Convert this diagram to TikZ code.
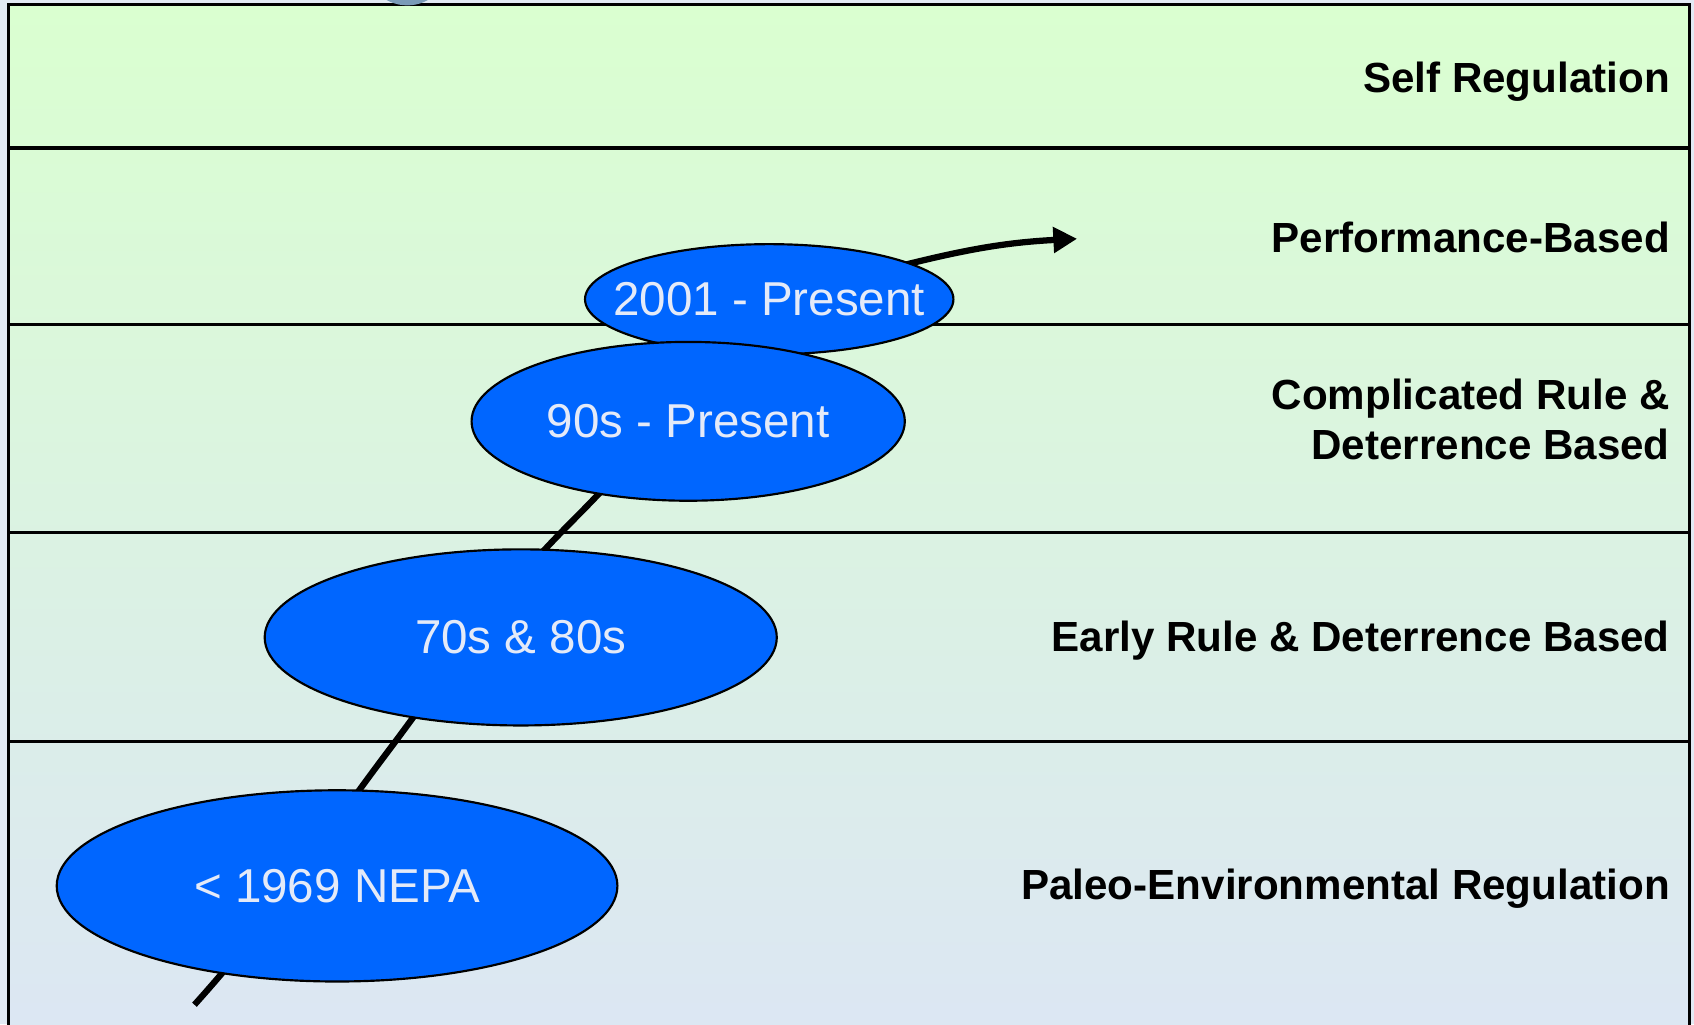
\documentclass[tikz,border=0pt]{standalone}
\usepackage{fontspec}
\setmainfont{Liberation Sans}
\usetikzlibrary{shapes.geometric,arrows.meta}
\definecolor{bandtop}{RGB}{218,255,208}
\definecolor{bandbot}{RGB}{220,230,244}
\definecolor{pagebg}{RGB}{226,234,244}
\definecolor{eraBlue}{RGB}{0,102,255}
\definecolor{eraText}{RGB}{228,234,248}
\definecolor{knob}{RGB}{122,154,184}
\newcommand\eratext[1]{\makebox[0pt]{#1}}
\tikzset{
  era/.style={ellipse, draw=black, line width=1pt, fill=eraBlue, text=eraText,
    inner sep=0pt, font=\fontsize{22}{26}\selectfont},
  rowlabel/.style={anchor=east, align=right, inner sep=0pt, font=\bfseries\fontsize{19.5}{23}\selectfont},
  trend/.style={line width=2.9pt, -{Triangle[length=11pt,width=11.5pt]}},
  bandline/.style={line width=1.4pt}
}
\begin{document}
\begin{tikzpicture}[x=0.5pt,y=0.5pt]
\useasboundingbox[fill=pagebg] (0,0) rectangle (1568,948);
% bands
\shade[top color=bandtop, bottom color=bandbot] (8,-20) rectangle (1564,944);
\draw[bandline] (8,-20) rectangle (1564,944);
\foreach \yy in {811,648,455,262}
  \draw[bandline] (8,\yy) -- (1564,\yy);
\fill[knob] (377,982) circle (39);
\foreach \lab/\yy [count=\i] in {Self Regulation/872, Performance-Based/728,
    {Complicated Rule \&\\Deterrence Based}/560, Early Rule \& Deterrence Based/355,
    Paleo-Environmental Regulation/125}
  \node[rowlabel] (lab\i) at (1546,\yy) {\lab};
% trend line behind the eras
\coordinate (t0) at (180,18);
\coordinate (t1) at (358,251);
\coordinate (t2) at (530,466);
\coordinate (t3) at (838,703);
\coordinate (tip) at (997,727);
\draw[trend] (t0) to[out=48,in=233] (t1) to[out=53,in=225] (t2)
  to[out=45,in=194] (t3) to[out=14,in=183] (tip);
% eras
\node[era, minimum width=170.5pt, minimum height=51pt] (e2001) at (712,671) {\eratext{2001 - Present}};
\node[era, minimum width=200.5pt, minimum height=73.5pt] (e90) at (637,558) {\eratext{90s - Present}};
\node[era, minimum width=237pt, minimum height=81.5pt] (e70) at (482,358) {\eratext{70s \& 80s}};
\node[era, minimum width=259.5pt, minimum height=88.5pt] (e1969) at (312,128) {\eratext{< 1969 NEPA}};
\end{tikzpicture}
\end{document}
